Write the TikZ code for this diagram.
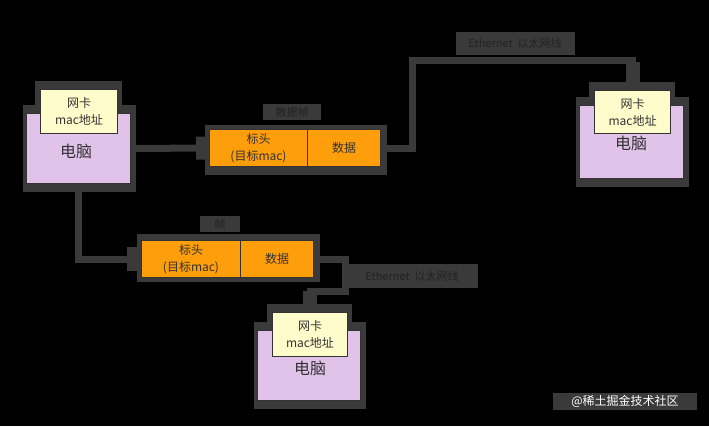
\documentclass[tikz,border=0pt]{standalone}
\usepackage{fontspec}
\setmainfont{Noto Sans CJK SC}
\usetikzlibrary{arrows.meta,backgrounds}
\pgfdeclarelayer{bottom}
\pgfsetlayers{bottom,background,main}
\definecolor{shd}{HTML}{3A3A3A}
\definecolor{pcc}{HTML}{E1C2E9}
\definecolor{cardc}{HTML}{FFFCCB}
\definecolor{orc}{HTML}{FF9E0B}
\definecolor{txt}{HTML}{333333}
\definecolor{lbl}{HTML}{222222}
\begin{document}
\begin{tikzpicture}[x=1pt,y=-1pt,
  pcbox/.style={draw=txt,line width=1pt,fill=pcc,inner sep=0pt,anchor=north west},
  cardbox/.style={draw=txt,line width=1pt,fill=cardc,inner sep=0pt,anchor=north west,
     align=center,text=txt,font=\fontsize{12}{17}\selectfont},
  cellbox/.style={draw=txt,line width=1pt,fill=orc,inner sep=0pt,anchor=north west,
     align=center,text=txt,font=\fontsize{12}{17}\selectfont},
  pctext/.style={text=txt,font=\fontsize{16}{18}\selectfont,inner sep=0pt},
  lab/.style={fill=shd,text=lbl,inner sep=0pt,font=\fontsize{11}{13}\selectfont},
  conn/.style={draw=shd,line width=7pt},
  shadow/.style={fill=shd}
]
\useasboundingbox (0,0) rectangle (709,426);
\begin{pgfonlayer}{bottom}
\fill[black] (0,0) rectangle (709,426);
\end{pgfonlayer}

% computers
\node[pcbox,minimum width=104pt,minimum height=70pt] (pc1) at (26,113) {};
\node[pcbox,minimum width=104pt,minimum height=73pt] (pc2) at (579,105) {};
\node[pcbox,minimum width=103pt,minimum height=70pt] (pc3) at (257,330) {};
\node[cardbox,minimum width=77pt,minimum height=44pt] (card1) at (40,89) {网卡\\mac地址};
\node[cardbox,minimum width=76pt,minimum height=43pt] (card2) at (594,90) {网卡\\mac地址};
\node[cardbox,minimum width=75pt,minimum height=44pt] (card3) at (272,312) {网卡\\mac地址};
\node[pctext] (t1) at (76,151) {电脑};
\node[pctext] (t2) at (631,143) {电脑};
\node[pctext] (t3) at (310,368) {电脑};

% frames
\node[cellbox,minimum width=98pt,minimum height=37pt] (f1a) at (209,129) {标头\\(目标mac)};
\node[cellbox,minimum width=73pt,minimum height=37pt] (f1b) at (307,129) {数据};
\node[cellbox,minimum width=99pt,minimum height=37pt] (f2a) at (141,240) {标头\\(目标mac)};
\node[cellbox,minimum width=73pt,minimum height=37pt] (f2b) at (240,240) {数据};

% labels
\node[lab,minimum width=58pt,minimum height=16pt] (l1) at (292,112) {数据帧};
\node[lab,minimum width=40pt,minimum height=16pt] (l2) at (220,224) {帧};
\node[lab,minimum width=119pt,minimum height=23pt] (l3) at (515,43) {Ethernet\ \ 以太网线};
\node[lab,minimum width=132pt,minimum height=24pt] (l4) at (412,276) {Ethernet\ \ 以太网线};

% watermark
\node[fill=shd,text=white!92,inner sep=0pt,minimum width=144pt,minimum height=17pt,
      font=\fontsize{12}{14}\selectfont] (wm) at (625,401) {@稀土掘金技术社区};

\coordinate (b1) at (412,60);
\coordinate (b2) at (345,291);

\begin{scope}[on background layer]
  % shadows
  \foreach \n in {pc1,pc2,pc3}
    \fill[shadow] ([shift={(-3,-8)}]\n.north west) rectangle ([shift={(5,8)}]\n.south east);
  \foreach \n in {card1,card2,card3}
    \fill[shadow] ([shift={(-5,-8)}]\n.north west) rectangle ([shift={(4,0)}]\n.south east);
  \fill[shadow] ([shift={(-4,-4)}]f1a.north west) rectangle ([shift={(6,8)}]f1b.south east);
  \fill[shadow] ([shift={(-4,-6)}]f2a.north west) rectangle ([shift={(6,4)}]f2b.south east);
  % connectors
  \draw[conn,-{Rectangle[length=9pt,width=23pt]},shorten >=4pt] (pc1.east) -- (f1a.west);
  \draw[conn,-{Rectangle[length=20pt,width=14pt]},shorten >=8pt] (f1b.east) -| (b1) -| (card2.north);
  \draw[conn,-{Rectangle[length=10pt,width=24pt]},shorten >=4pt] (pc1.south) |- (f2a.west);
  \draw[conn,-{Rectangle[length=14pt,width=14pt]},shorten >=7pt] (f2b.east) -| (b2) -| (card3.north);
\end{scope}
\end{tikzpicture}
\end{document}
